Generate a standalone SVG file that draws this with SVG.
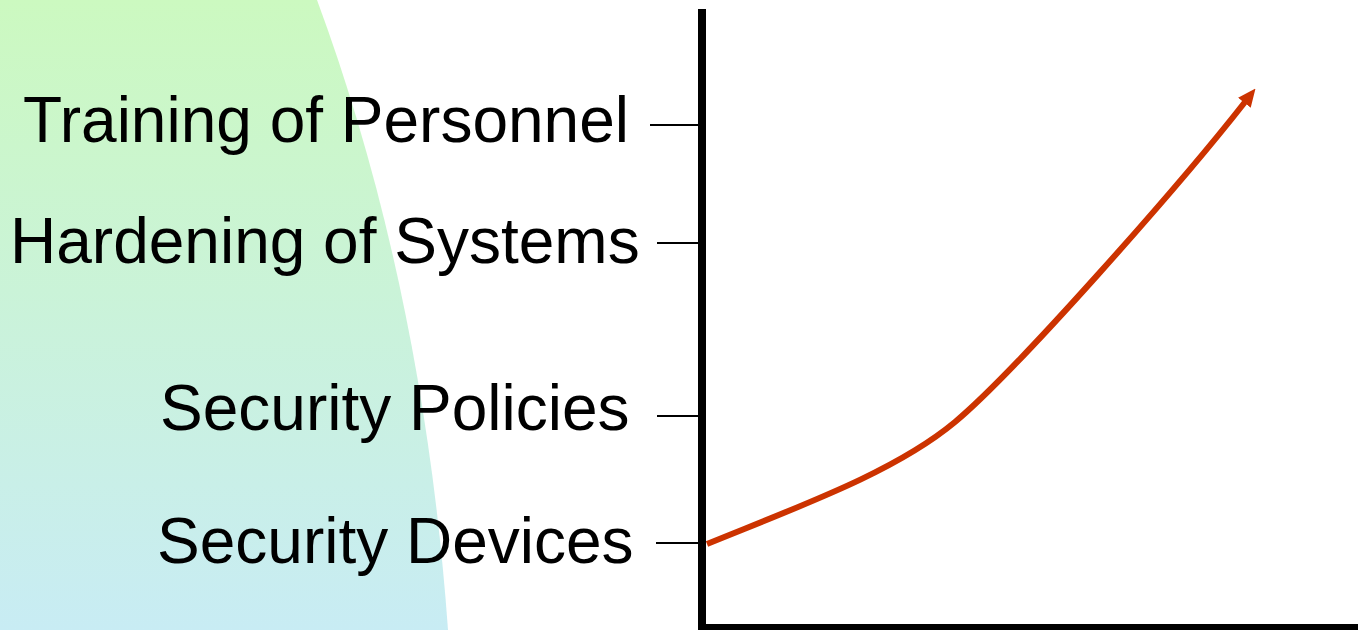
<svg xmlns="http://www.w3.org/2000/svg" width="1358" height="630" viewBox="0 0 1358 630">
  <style>
    .label { font-family: "Liberation Sans", Arial, sans-serif; font-size: 64px; fill: #000000; }
    .tick { stroke: #000000; stroke-width: 2; fill: none; }
    .axis { stroke: #000000; stroke-width: 8; fill: none; }
    .trend { stroke: #CC3300; stroke-width: 6; fill: none; }
  </style>
  <defs>
    <linearGradient id="bgGrad" x1="0" y1="0" x2="0" y2="1">
      <stop offset="0" stop-color="#CCF9C0"/>
      <stop offset="1" stop-color="#C8ECF4"/>
    </linearGradient>
    <marker id="arrow" markerUnits="userSpaceOnUse" viewBox="0 0 18 16" markerWidth="18" markerHeight="16" refX="1" refY="8" orient="auto">
      <path d="M0,0 L18,8 L0,16 Z" fill="#CC3300"/>
    </marker>
  </defs>
  <rect x="0" y="0" width="1358" height="630" fill="#FFFFFF"/>
  <g id="background">
    <path d="M0,0 L317,0 C380,170 430,380 448,630 L0,630 Z" fill="url(#bgGrad)"/>
  </g>
  <g id="axes">
    <line class="axis" x1="702" y1="9" x2="702" y2="632"/>
    <line class="axis" x1="698" y1="628" x2="1358" y2="628"/>
  </g>
  <g id="node-training">
    <text class="label" x="23" y="142">Training of Personnel</text>
  </g>
  <g id="node-hardening">
    <text class="label" x="10" y="263">Hardening of Systems</text>
  </g>
  <g id="node-policies">
    <text class="label" x="160" y="430">Security Policies</text>
  </g>
  <g id="node-devices">
    <text class="label" x="157" y="563">Security Devices</text>
  </g>
  <g id="connectors">
    <line class="tick" x1="650" y1="125" x2="698" y2="125"/>
    <line class="tick" x1="657" y1="243" x2="698" y2="243"/>
    <line class="tick" x1="657" y1="416" x2="698" y2="416"/>
    <line class="tick" x1="656" y1="543" x2="698" y2="543"/>
    <path class="trend" d="M707,544 C800,506 895,472 955,422 C1015,372 1180,185 1245,102" marker-end="url(#arrow)"/>
  </g>
</svg>
